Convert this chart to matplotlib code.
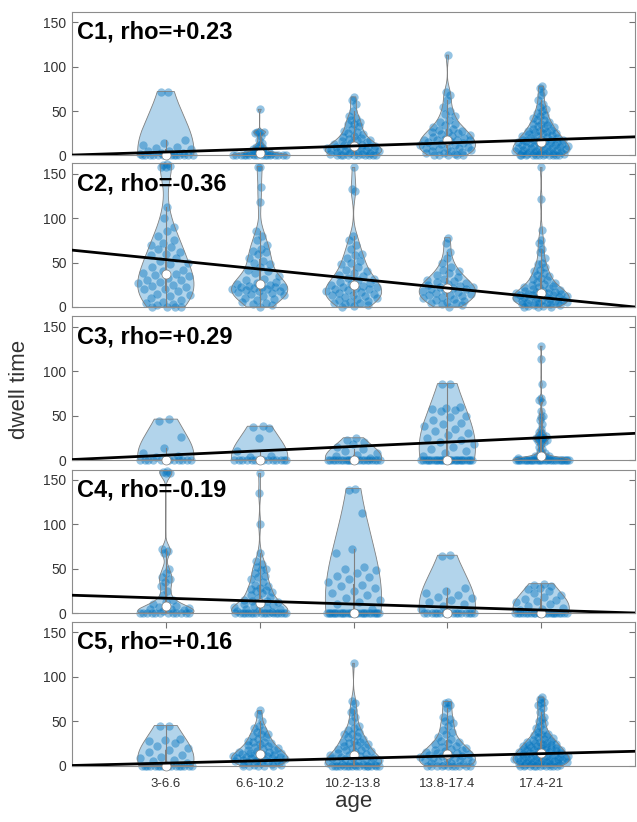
import numpy as np
import matplotlib
matplotlib.use("Agg")
import matplotlib.pyplot as plt

plt.rcParams["font.family"] = ["Liberation Sans", "DejaVu Sans"]

AGE_BINS = ["3-6.6", "6.6-10.2", "10.2-13.8", "13.8-17.4", "17.4-21"]
CLUSTERS = ["C1", "C2", "C3", "C4", "C5"]
RHO = ["+0.23", "-0.36", "+0.29", "-0.19", "+0.16"]
# trend line: value at the left edge and at the right edge
FIT_LEFT = [0.5, 64, 0.5, 20, 0.0]
FIT_RIGHT = [21, 0, 30, 0, 16]

# dwell times per age bin, one list per cluster
C1 = [
    [72, 71, 18, 14, 12, 10, 8, 7, 5, 5, 3, 3, 2] + [0] * 14,
    [52, 27, 27, 26, 25, 22, 18, 14, 12, 10, 9, 8, 7, 6, 5, 4, 3, 3, 2, 2, 1, 1] + [0] * 14,
    [66, 62, 58, 50, 45, 42, 40, 38, 36, 35, 33, 30, 28, 27, 25, 24, 22, 21, 20, 19,
     18, 17, 16, 15, 14, 13, 12, 12, 11, 11, 10, 10, 9, 9, 8, 8, 7, 7, 6, 6,
     5, 5, 4, 4, 3, 3, 2, 2, 1, 1] + [0] * 8,
    [113, 72, 68, 62, 55, 50, 47, 44, 40, 38, 36, 34, 32, 30, 29, 28, 27, 26, 25, 24,
     23, 22, 21, 20, 19, 18, 18, 17, 17, 16, 15, 14, 13, 12, 12, 11, 10, 9, 8, 8,
     7, 6, 5, 5, 4, 3, 3, 2, 1] + [0] * 4,
    [78, 76, 72, 68, 62, 58, 55, 52, 50, 48, 46, 44, 42, 40, 40, 38, 36, 35, 34, 33,
     32, 31, 30, 29, 28, 28, 27, 26, 25, 25, 24, 23, 22, 22, 21, 20, 20, 19, 18, 18,
     17, 17, 16, 16, 15, 15, 15, 14, 14, 13, 13, 12, 12, 11, 11, 10, 10, 10, 9, 9,
     8, 8, 7, 7, 6, 6, 5, 5, 5, 4, 4, 4, 3, 3, 3, 2, 2, 2, 1, 1, 1] + [0] * 8,
]
C2 = [
    [161, 160, 159, 158, 158, 112, 100, 90, 85, 80, 75, 72, 70, 68, 65, 62, 60, 58, 55, 52,
     50, 48, 45, 42, 40, 38, 37, 36, 35, 33, 30, 30, 28, 27, 25, 24, 22, 20, 20, 18,
     15, 14, 12, 10, 8, 6, 5, 3, 2] + [0] * 4,
    [158, 157, 135, 118, 85, 80, 75, 70, 65, 63, 62, 60, 55, 52, 50, 48, 45, 42, 40, 38,
     35, 32, 30, 28, 27, 26, 25, 24, 23, 23, 22, 22, 21, 20, 20, 19, 18, 18, 17, 16,
     15, 14, 12, 10, 9, 8, 6, 5, 3, 2, 0],
    [157, 133, 131, 80, 75, 70, 65, 60, 58, 55, 52, 50, 48, 45, 42, 40, 38, 36, 35, 33,
     32, 30, 28, 27, 26, 25, 24, 23, 22, 21, 20, 20, 19, 18, 17, 16, 15, 14, 13, 12,
     11, 10, 9, 8, 7, 6, 5, 4, 3, 2, 1, 0],
    [78, 72, 62, 55, 50, 45, 42, 40, 38, 36, 34, 32, 30, 29, 28, 27, 26, 25, 24, 23,
     22, 21, 20, 20, 19, 18, 17, 16, 15, 14, 13, 12, 11, 10, 9, 8, 7, 6, 5, 4, 3, 2, 0],
    [157, 121, 87, 75, 72, 65, 62, 55, 50, 48, 45, 42, 40, 38, 36, 35, 33, 32, 30, 28,
     27, 26, 25, 24, 23, 22, 21, 20, 19, 18, 18, 17, 17, 16, 16, 15, 15, 14, 14, 13,
     13, 12, 12, 11, 11, 10, 10, 9, 9, 8, 8, 7, 7, 6, 6, 5, 5, 4, 4, 3,
     3, 2, 2, 1, 1, 0, 0, 0],
]
C3 = [
    [46, 44, 26, 14, 8, 5, 3] + [0] * 12,
    [38, 37, 36, 25, 10, 5, 3] + [0] * 14,
    [25, 22, 20, 18, 15, 12, 10, 8, 6, 4, 2] + [0] * 22,
    [86, 85, 60, 58, 57, 56, 55, 50, 48, 45, 42, 40, 38, 35, 33, 30, 28, 25, 22, 20,
     18, 15, 12, 10, 8, 5] + [0] * 28,
    [128, 114, 85, 70, 68, 65, 55, 50, 48, 45, 40, 35, 32, 30, 28, 27, 26, 25, 25, 24,
     23, 22, 21, 20, 18, 15, 12, 10, 8, 6, 5, 4, 3, 2, 1] + [0] * 28,
]
C4 = [
    [160, 159, 158, 157, 72, 70, 68, 50, 45, 40, 38, 35, 30, 25, 20, 15, 12, 10, 8, 7,
     6, 5, 4, 3, 2] + [0] * 12,
    [157, 135, 100, 68, 58, 55, 52, 50, 48, 45, 42, 40, 38, 35, 32, 30, 28, 27, 26, 25,
     24, 22, 20, 18, 17, 15, 14, 13, 12, 11, 10, 9, 8, 7, 6, 5, 4, 3, 2, 1] + [0] * 18,
    [140, 138, 113, 72, 67, 52, 50, 48, 45, 42, 40, 38, 35, 32, 30, 28, 25, 22, 20, 17,
     15, 12, 10, 5] + [0] * 28,
    [65, 64, 28, 25, 22, 20, 18, 17, 15, 12, 10, 8, 5] + [0] * 16,
    [33, 32, 30, 28, 27, 25, 22, 20, 18, 16, 15, 13, 12, 10, 8, 6, 5, 3] + [0] * 22,
]
C5 = [
    [45, 44, 30, 29, 28, 25, 22, 20, 18, 15, 12, 10, 8, 6, 5, 3] + [0] * 17,
    [62, 58, 50, 45, 42, 40, 38, 36, 35, 33, 32, 30, 28, 27, 26, 25, 24, 23, 22, 21,
     20, 19, 18, 17, 16, 15, 15, 14, 14, 13, 13, 12, 12, 11, 11, 10, 10, 9, 9, 8,
     8, 7, 7, 6, 6, 5, 5, 4, 4, 3, 3, 2, 2, 1, 1] + [0] * 5,
    [115, 73, 70, 62, 60, 55, 50, 45, 42, 40, 38, 36, 35, 33, 32, 30, 28, 27, 26, 25,
     24, 23, 22, 21, 20, 19, 18, 17, 16, 15, 14, 13, 12, 12, 11, 10, 9, 9, 8, 7,
     7, 6, 5, 5, 4, 3, 3, 2, 2, 1, 1] + [0] * 16,
    [72, 70, 68, 65, 55, 52, 50, 48, 45, 40, 38, 35, 32, 30, 28, 26, 25, 24, 22, 21,
     20, 19, 18, 17, 16, 15, 14, 14, 13, 12, 12, 11, 11, 10, 9, 9, 8, 7, 6, 6,
     5, 4, 3, 3, 2, 1] + [0] * 10,
    [77, 75, 72, 70, 68, 65, 60, 55, 52, 50, 48, 45, 42, 40, 38, 36, 35, 34, 33, 32,
     31, 30, 29, 28, 27, 26, 25, 25, 24, 24, 23, 23, 22, 22, 21, 21, 20, 20, 19, 19,
     18, 18, 17, 17, 16, 16, 15, 15, 14, 14, 13, 13, 12, 12, 11, 11, 10, 10, 10, 9,
     9, 9, 8, 8, 8, 7, 7, 7, 6, 6, 6, 5, 5, 5, 4, 4, 4, 3, 3, 3,
     2, 2, 2, 1, 1, 1] + [0] * 10,
]
DATA = [C1, C2, C3, C4, C5]

BLUE = (0.0, 0.447, 0.741)
GREY = (0.5, 0.5, 0.5)
HALF_WIDTH = 0.3


def violin_outline(vals, n_grid=200):
    """ksdensity-style kde (MAD bandwidth, range fallback), cut at data range."""
    n = len(vals)
    sig = np.median(np.abs(vals - np.median(vals))) / 0.6745
    if sig <= 0:
        sig = vals.max() - vals.min()
    bw = sig * (4.0 / (3.0 * n)) ** 0.2
    grid = np.linspace(vals.min(), vals.max(), n_grid)
    dens = np.exp(-0.5 * ((grid[:, None] - vals[None, :]) / bw) ** 2).sum(axis=1)
    return grid, dens / dens.max() * HALF_WIDTH


def draw_violin(ax, pos, vals):
    vals = np.asarray(vals, dtype=float)
    grid, half = violin_outline(vals)

    # spread points inside the violin (fixed low-discrepancy offsets)
    u = (np.arange(1, len(vals) + 1) * 0.6180339887) % 1.0
    xs = pos + (2 * u - 1) * np.interp(vals, grid, half)
    ax.scatter(xs, vals, s=36, color=BLUE, alpha=0.42, linewidths=0,
               zorder=2, clip_on=False)

    ax.fill(np.r_[pos + half, pos - half[::-1]], np.r_[grid, grid[::-1]],
            facecolor=BLUE, alpha=0.3, edgecolor="none", zorder=3)
    ax.plot(np.r_[pos + half, pos - half[::-1], pos + half[0]],
            np.r_[grid, grid[::-1], grid[0]], color=GREY, lw=0.6, zorder=3)

    q1, med, q3 = np.percentile(vals, [25, 50, 75])
    iqr = q3 - q1
    lo_cand = vals[vals > q1 - 1.5 * iqr]
    hi_cand = vals[vals < q3 + 1.5 * iqr]
    lo = max(q1 - 1.5 * iqr, lo_cand.min()) if lo_cand.size else q1
    hi = min(q3 + 1.5 * iqr, hi_cand.max()) if hi_cand.size else q3
    ax.plot([pos, pos], [lo, hi], color=GREY, lw=0.8, zorder=4)
    ax.fill([pos - 0.01, pos + 0.01, pos + 0.01, pos - 0.01], [q1, q1, q3, q3],
            color=GREY, lw=0, zorder=4)
    ax.scatter([pos], [med], s=42, facecolor="white", edgecolor=GREY,
               linewidths=0.5, zorder=5, clip_on=False)


def main():
    fig = plt.figure(figsize=(6.37, 8.22), dpi=100)
    W, H = 637.0, 822.0
    left, right = 72.0, 635.0
    tops = [12.0, 163.5, 316.5, 469.5, 622.0]
    height = 143.5

    for i, (groups, name, rho) in enumerate(zip(DATA, CLUSTERS, RHO)):
        ax = fig.add_axes([left / W, 1 - (tops[i] + height) / H,
                           (right - left) / W, height / H])
        for j, vals in enumerate(groups):
            draw_violin(ax, j + 1, vals)
        ax.plot([0, 6], [FIT_LEFT[i], FIT_RIGHT[i]], color="black", lw=2, zorder=6)

        ax.set_xlim(0, 6)
        ax.set_ylim(0, 161.5)
        ax.set_yticks([0, 50, 100, 150])
        ax.tick_params(axis="y", direction="in", length=4, right=True,
                       labelsize=10, labelcolor="#333333", color="0.45", pad=4)
        for sp in ax.spines.values():
            sp.set_color("0.55")
            sp.set_linewidth(0.8)
        if i == len(DATA) - 1:
            ax.set_xticks(range(1, 6))
            ax.set_xticklabels(AGE_BINS)
            ax.tick_params(axis="x", direction="in", length=4, top=True,
                           labelsize=9.5, labelcolor="#333333", color="0.45", pad=9)
        else:
            ax.set_xticks([])
        ax.text(0.009, 0.94, f"{name}, rho={rho}", transform=ax.transAxes,
                ha="left", va="top", fontsize=17, fontweight="bold", zorder=10)

    fig.text(0.031, 0.526, "dwell time", rotation=90, ha="center", va="center",
             fontsize=16, color="#333333")
    fig.text((left + right) / 2 / W, 1 - 801 / H, "age", ha="center", va="center",
             fontsize=16, color="#333333")
    fig.savefig("out.png", dpi=100)


if __name__ == "__main__":
    main()
